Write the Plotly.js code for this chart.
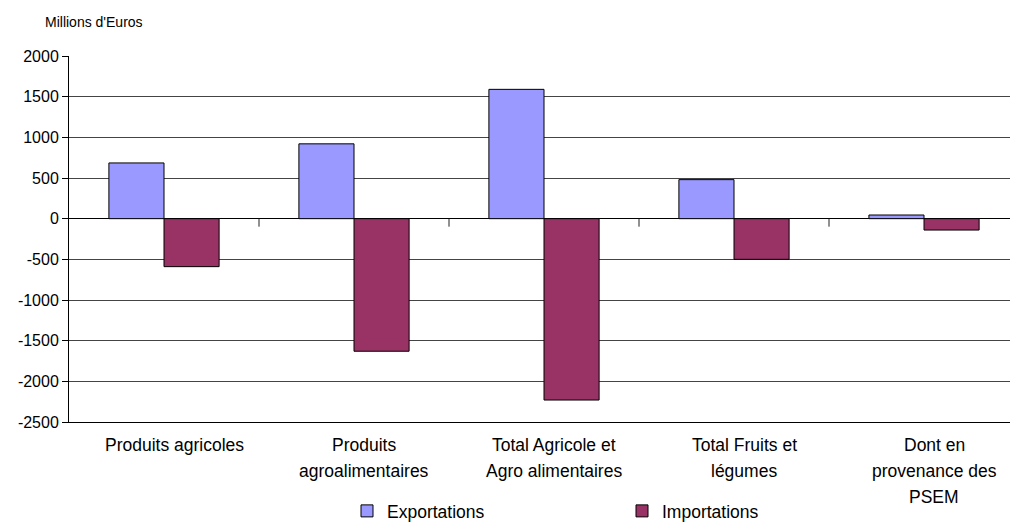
<!DOCTYPE html>
<html>
<head>
<meta charset="utf-8">
<script src="https://cdn.plot.ly/plotly-3.0.1.min.js"></script>
<style>html,body{margin:0;padding:0;background:#fff;overflow:hidden}</style>
</head>
<body>
<div id="chart" style="width:1010px;height:522px"></div>
<script>
// Category labels (each entry: lines of the wrapped label)
const categoryLines = [
  ["Produits agricoles"],
  ["Produits", "agroalimentaires"],
  ["Total Agricole et", "Agro alimentaires"],
  ["Total Fruits et", "légumes"],
  ["Dont en", "provenance des", "PSEM"]
];
const categories = categoryLines.map(l => l.join(" "));
const exportations = [685, 920, 1590, 480, 45];
const importations = [-590, -1630, -2230, -500, -140];
const seriesNames = ["Exportations", "Importations"];
const yTicks = [2000, 1500, 1000, 500, 0, -500, -1000, -1500, -2000, -2500];
const yAxisLabel = "Millions d'Euros";

const FONT = "Liberation Sans, Arial, sans-serif";

const traces = [
  {type: "bar", name: seriesNames[0], x: categories, y: exportations,
   marker: {color: "#9999FF", line: {color: "#000", width: 1}}},
  {type: "bar", name: seriesNames[1], x: categories, y: importations,
   marker: {color: "#993366", line: {color: "#000", width: 1}}}
];

const xRange = [-0.5, 4.4526];
const annotations = [];
categoryLines.forEach((lines, i) => {
  lines.forEach((t, j) => {
    annotations.push({
      xref: "x", yref: "paper", x: categories[i], y: 0,
      yanchor: "middle", xanchor: "center", yshift: -23 - 26 * j, xshift: 10,
      text: t, showarrow: false,
      font: {family: FONT, size: 17.5, color: "#000"}
    });
  });
});
annotations.push({
  xref: "paper", yref: "paper", x: 0, y: 1, xanchor: "left", yanchor: "middle",
  xshift: -26, yshift: 34, text: yAxisLabel, showarrow: false,
  font: {family: FONT, size: 14, color: "#000"}
});

// small tick marks on the zero line at the category boundaries
const shapes = categories.slice(0, -1).map((c, i) => ({
  type: "line", xref: "x", yref: "y", x0: i + 0.5, x1: i + 0.5,
  ysizemode: "pixel", yanchor: 0, y0: 0, y1: -8,
  line: {color: "#222", width: 1}
}));

const layout = {
  width: 1010, height: 522,
  margin: {l: 69, r: 0, t: 56, b: 100, autoexpand: false},
  paper_bgcolor: "#fff", plot_bgcolor: "#fff",
  barmode: "group", bargap: 0.42, bargroupgap: 0,
  font: {family: FONT, size: 16, color: "#000"},
  xaxis: {
    type: "category", categoryarray: categories, range: xRange,
    showticklabels: false, showline: true, linecolor: "#000", linewidth: 1,
    showgrid: false, ticks: "", zeroline: false, automargin: false
  },
  yaxis: {
    range: [-2500, 2000], tickvals: yTicks, ticktext: yTicks.map(String),
    showline: true, linecolor: "#000", linewidth: 1,
    ticks: "outside", ticklen: 6, tickcolor: "#000",
    showgrid: true, gridcolor: "#444", gridwidth: 1,
    zeroline: true, zerolinecolor: "#000", zerolinewidth: 1,
    tickfont: {family: FONT, size: 16, color: "#000"}, automargin: false
  },
  showlegend: true,
  legend: {
    orientation: "h", x: (347 - 69) / 941, xanchor: "left",
    y: (422 - 511) / 366, yanchor: "middle",
    entrywidth: 230, entrywidthmode: "pixels",
    font: {family: FONT, size: 17.5, color: "#000"},
    traceorder: "normal"
  },
  shapes: shapes,
  annotations: annotations
};

Plotly.newPlot("chart", traces, layout, {displayModeBar: false, staticPlot: true});
</script>
</body>
</html>
